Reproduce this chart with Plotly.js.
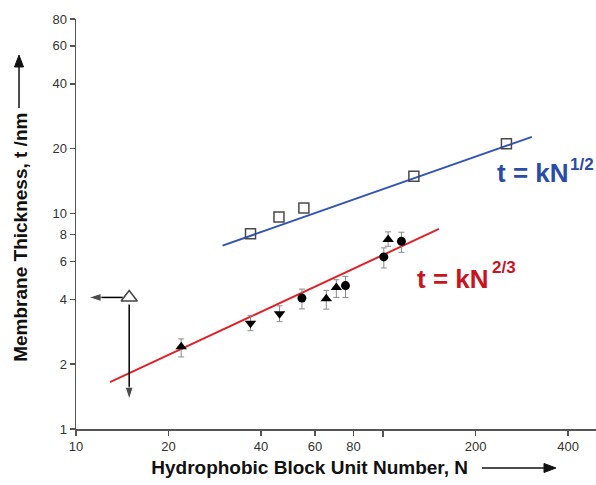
<!DOCTYPE html>
<html>
<head>
<meta charset="utf-8">
<script src="https://cdn.plot.ly/plotly-3.0.1.min.js"></script>
<style>html,body{margin:0;padding:0;background:#fff;}#chart{width:596px;height:485px;}</style>
</head>
<body>
<div id="chart"></div>
<script>
// Open squares (upper series) and its fitted line t = kN^(1/2)
const sqN = [37.0, 45.8, 55.2, 125.9, 252];
const sqT = [8.05, 9.65, 10.6, 14.9, 21.1];
const fitHalfN = [30, 305];
const fitHalfT = [7.1, 22.7];

// Lower series and its fitted line t = kN^(2/3)
const upTriN = [22.0, 65.3, 70.4, 103.8];
const upTriT = [2.41, 4.02, 4.54, 7.57];
const upTriHi = [2.62, 4.40, 4.93, 8.22];
const upTriLo = [2.16, 3.60, 4.08, 7.05];

const downTriN = [37.0, 46.0];
const downTriT = [3.10, 3.43];
const downTriHi = [3.37, 3.73];
const downTriLo = [2.86, 3.15];

const circN = [54.4, 75.4, 100.5, 114.7];
const circT = [4.05, 4.63, 6.29, 7.43];
const circHi = [4.46, 5.11, 6.93, 8.19];
const circLo = [3.61, 4.08, 5.59, 6.61];

const fitTwoThirdsN = [12.9, 152];
const fitTwoThirdsT = [1.65, 8.49];

// Open triangle with bound arrows
const openTriN = [14.9];
const openTriT = [4.08];
const arrowLeftN = [14.2, 11.0];
const arrowLeftT = [4.08, 4.08];
const arrowDownN = [14.9, 14.9];
const arrowDownT = [3.78, 1.37];

// Tick labels
const xTickVals = [10, 20, 40, 60, 80, 200, 400];
const xTickText = ['10', '20', '40', '60', '80', '200', '400'];
const xMinorTickVals = [100];
const yTickVals = [1, 2, 4, 6, 8, 10, 20, 40, 60, 80];
const yTickText = ['1', '2', '4', '6', '8', '10', '20', '40', '60', '80'];

const xTitle = 'Hydrophobic Block Unit Number, N';
const yTitle = 'Membrane Thickness, t /nm';
const eqBase = 't = kN';
const eqHalfExp = '1/2';
const eqTwoThirdsExp = '2/3';

const errPlus = (v, hi) => hi.map((h, i) => h - v[i]);
const errMinus = (v, lo) => lo.map((l, i) => v[i] - l);

const errStyle = {color: '#8a8a8a', thickness: 1, width: 3};

const traces = [
  {x: fitHalfN, y: fitHalfT, mode: 'lines', line: {color: '#3353b8', width: 2}, hoverinfo: 'skip'},
  {x: fitTwoThirdsN, y: fitTwoThirdsT, mode: 'lines', line: {color: '#e0232b', width: 2}, hoverinfo: 'skip'},
  {x: sqN, y: sqT, mode: 'markers',
   marker: {symbol: 'square-open', size: 10, color: '#4a4a4a', line: {width: 1.5}}},
  {x: upTriN, y: upTriT, mode: 'markers',
   marker: {symbol: 'triangle-up', size: 10, color: '#000'},
   error_y: Object.assign({type: 'data', symmetric: false, array: errPlus(upTriT, upTriHi), arrayminus: errMinus(upTriT, upTriLo)}, errStyle)},
  {x: downTriN, y: downTriT, mode: 'markers',
   marker: {symbol: 'triangle-down', size: 10, color: '#000'},
   error_y: Object.assign({type: 'data', symmetric: false, array: errPlus(downTriT, downTriHi), arrayminus: errMinus(downTriT, downTriLo)}, errStyle)},
  {x: circN, y: circT, mode: 'markers',
   marker: {symbol: 'circle', size: 9, color: '#000'},
   error_y: Object.assign({type: 'data', symmetric: false, array: errPlus(circT, circHi), arrayminus: errMinus(circT, circLo)}, errStyle)},
  {x: arrowLeftN, y: arrowLeftT, mode: 'lines+markers', line: {color: '#000', width: 1.5},
   marker: {symbol: 'arrow', angleref: 'previous', size: [0, 13], color: '#000'}},
  {x: arrowDownN, y: arrowDownT, mode: 'lines+markers', line: {color: '#000', width: 1.5},
   marker: {symbol: 'arrow', angleref: 'previous', size: [0, 13], color: '#000'}},
  {x: openTriN, y: openTriT, mode: 'markers',
   marker: {symbol: 'triangle-up', size: 14, color: '#fff', line: {color: '#444', width: 1.5}}}
];

const fam = 'Liberation Sans, Arial, sans-serif';
const titleFont = {size: 19, color: '#111', family: fam, weight: 'bold'};
const blue = '#2a4ca6', red = '#c8141f';
const NB = '\u00A0', ZW = '\u200B';
const layout = {
  width: 596, height: 485,
  margin: {l: 76, r: 0, t: 19, b: 56},
  paper_bgcolor: '#fff', plot_bgcolor: '#fff',
  showlegend: false,
  font: {family: fam, color: '#333'},
  xaxis: {
    type: 'log', range: [1, 2.693],
    tickvals: xTickVals, ticktext: xTickText,
    ticks: 'outside', ticklen: 5, tickwidth: 1.5, tickcolor: '#555',
    minor: {tickvals: xMinorTickVals, ticks: 'outside', ticklen: 6, tickwidth: 1.5, tickcolor: '#555', showgrid: false},
    showline: true, linecolor: '#555', linewidth: 1.5,
    showgrid: false, zeroline: false,
    tickfont: {size: 13, color: '#333'},
    title: {text: xTitle + NB.repeat(10) + ZW, font: titleFont, standoff: 7}
  },
  yaxis: {
    type: 'log', range: [0, 1.903],
    tickvals: yTickVals, ticktext: yTickText,
    ticks: 'outside', ticklen: 5, tickwidth: 1.5, tickcolor: '#555',
    showline: true, linecolor: '#555', linewidth: 1.5,
    showgrid: false, zeroline: false,
    tickfont: {size: 13, color: '#333'},
    title: {text: yTitle + NB.repeat(5) + ZW, font: titleFont, standoff: 20}
  },
  shapes: [
    // x-title arrow
    {type: 'line', xref: 'paper', yref: 'paper', x0: 0.7808, x1: 0.905, y0: -0.0951, y1: -0.0951,
     line: {color: '#111', width: 1.5}},
    {type: 'path', xref: 'paper', yref: 'paper', path: 'M 0.923 -0.0951 L 0.9 -0.0841 L 0.9 -0.1061 Z',
     fillcolor: '#111', line: {color: '#111', width: 1}},
    // y-title arrow
    {type: 'line', xref: 'paper', yref: 'paper', x0: -0.1096, x1: -0.1096, y0: 0.783, y1: 0.888,
     line: {color: '#111', width: 1.5}},
    {type: 'path', xref: 'paper', yref: 'paper', path: 'M -0.1096 0.912 L -0.1183 0.883 L -0.1009 0.883 Z',
     fillcolor: '#111', line: {color: '#111', width: 1}}
  ],
  annotations: [
    {xref: 'x', yref: 'y', x: Math.log10(231), y: Math.log10(15.35), xanchor: 'left', yanchor: 'middle',
     text: eqBase, showarrow: false, font: {size: 26, color: blue, family: fam, weight: 'bold'}},
    {xref: 'x', yref: 'y', x: Math.log10(400), y: Math.log10(16.9), xanchor: 'left', yanchor: 'middle',
     text: eqHalfExp, showarrow: false, font: {size: 17, color: blue, family: fam, weight: 'bold'}},
    {xref: 'x', yref: 'y', x: Math.log10(127), y: Math.log10(4.97), xanchor: 'left', yanchor: 'middle',
     text: eqBase, showarrow: false, font: {size: 26, color: red, family: fam, weight: 'bold'}},
    {xref: 'x', yref: 'y', x: Math.log10(223), y: Math.log10(5.62), xanchor: 'left', yanchor: 'middle',
     text: eqTwoThirdsExp, showarrow: false, font: {size: 17, color: red, family: fam, weight: 'bold'}}
  ]
};

Plotly.newPlot('chart', traces, layout, {displayModeBar: false, staticPlot: true});
</script>
</body>
</html>
